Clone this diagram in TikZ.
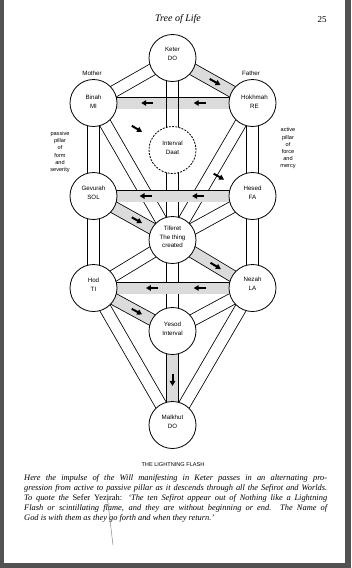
\documentclass[tikz,border=0pt]{standalone}
\usepackage{fontspec}
\setmainfont{Liberation Serif}
\setsansfont{Liberation Sans}
\usetikzlibrary{calc,arrows.meta}
\pgfdeclarelayer{paper}
\pgfdeclarelayer{bg}
\pgfsetlayers{paper,bg,main}
\newcommand\flasharr[4]{\draw[farrow] ($(#1.center)!#3!(#2.center)$) -- ($(#1.center)!#4!(#2.center)$);}
\begin{document}
\begin{tikzpicture}[x=1pt,y=-1pt,
  sef/.style={circle,draw,line width=0.8pt,fill=white,minimum size=47pt,inner sep=0pt},
  daatsef/.style={sef,dash pattern=on 2pt off 1.2pt},
  lbl/.style={font=\sffamily\fontsize{6.2}{9}\selectfont,align=center,inner sep=0pt},
  sidelbl/.style={font=\sffamily\fontsize{5.6}{7.2}\selectfont,align=center,inner sep=0pt},
  chan/.style={double=white,double distance=11pt,line width=0.8pt},
  flashchan/.style={double=black!14,double distance=11pt,line width=0.8pt},
  farrow/.style={line width=2pt,-{Triangle[length=5pt,width=5.5pt]}},
  capl/.style={font=\fontsize{8.4}{10}\selectfont\itshape,inner sep=0pt,anchor=base west},
]
\useasboundingbox (0,0) rectangle (351,568);
\begin{pgfonlayer}{paper}
\fill[white] (0,0) rectangle (351,568);
\fill[black!68] (0,0) rectangle (4,568);
\fill[black!68] (345,0) rectangle (351,568);
\fill[black!68] (0,563) rectangle (351,568);
\end{pgfonlayer}

% header
\node[font=\fontsize{10}{12}\selectfont\itshape,inner sep=0pt] (title) at (178,19) {Tree of Life};
\node[font=\fontsize{9}{11}\selectfont,inner sep=0pt] (pagenum) at (322,20) {25};

% sefirot
\node[sef] (ket) at (172.5,58) {};
\node[sef] (bin) at (93.5,103) {};
\node[sef] (hok) at (252.5,103) {};
\node[daatsef] (daat) at (172.5,150) {};
\node[sef] (geb) at (93.5,196) {};
\node[sef] (hes) at (252.5,196) {};
\node[sef] (tif) at (172.5,240) {};
\node[sef] (hod) at (93.5,288) {};
\node[sef] (net) at (252.5,288) {};
\node[sef] (yes) at (172.5,331) {};
\node[sef] (mal) at (172.5,425) {};

\node[lbl] (ketT) at ([yshift=4pt]ket.center) {Keter\\DO};
\node[lbl] (binT) at ([yshift=1pt]bin.center) {Binah\\MI};
\node[lbl] (hokT) at ([xshift=2pt,yshift=1pt]hok.center) {Hokhmah\\RE};
\node[lbl] (daatT) at ([yshift=2pt]daat.center) {Interval\\Daat};
\node[lbl] (gebT) at ([yshift=3pt]geb.center) {Gevurah\\SOL};
\node[lbl] (hesT) at ([yshift=3pt]hes.center) {Hesed\\FA};
\node[lbl,font=\sffamily\fontsize{6.2}{8.5}\selectfont] (tifT) at ([yshift=3pt]tif.center) {Tiferet\\The thing\\created};
\node[lbl] (hodT) at ([yshift=3pt]hod.center) {Hod\\TI};
\node[lbl] (netT) at ([yshift=4pt]net.center) {Nezah\\LA};
\node[lbl] (yesT) at ([yshift=2pt]yes.center) {Yesod\\Interval};
\node[lbl] (malT) at ([yshift=3pt]mal.center) {Malkhut\\DO};

\node[lbl] (mother) at (92,73) {Mother};
\node[lbl] (father) at (251,73) {Father};
\node[sidelbl] (passive) at (60,152) {passive\\pillar\\of\\form\\and\\severity};
\node[sidelbl] (active) at (288,148.5) {active\\pillar\\of\\force\\and\\mercy};

\begin{pgfonlayer}{bg}
  \draw[chan] (ket.center) -- (bin.center);
  \draw[chan] (ket.center) -- (tif.center);
  \draw[chan] (bin.center) -- (geb.center);
  \draw[chan] (hok.center) -- (hes.center);
  \draw[chan] (bin.center) -- (tif.center);
  \draw[chan] (hok.center) -- (tif.center);
  \draw[chan] (hes.center) -- (tif.center);
  \draw[chan] (geb.center) -- (hod.center);
  \draw[chan] (hes.center) -- (net.center);
  \draw[chan] (tif.center) -- (hod.center);
  \draw[chan] (tif.center) -- (yes.center);
  \draw[chan] (net.center) -- (yes.center);
  \draw[chan] (hod.center) -- (mal.center);
  \draw[chan] (net.center) -- (mal.center);
  \draw[flashchan] (ket.center) -- (hok.center);
  \draw[flashchan] (hok.center) -- (bin.center);
  \draw[flashchan] (hes.center) -- (geb.center);
  \draw[flashchan] (geb.center) -- (tif.center);
  \draw[flashchan] (tif.center) -- (net.center);
  \draw[flashchan] (net.center) -- (hod.center);
  \draw[flashchan] (hod.center) -- (yes.center);
  \draw[flashchan] (yes.center) -- (mal.center);
  \draw[line width=0.8pt] ([xshift=-5.9pt]ket.center) -- ([xshift=-5.9pt]daat.center);
  \draw[line width=0.8pt] ([xshift=5.9pt]ket.center) -- ([xshift=5.9pt]daat.center);
\end{pgfonlayer}

% lightning flash arrows
\flasharr{ket}{hok}{0.465}{0.6}
\flasharr{hok}{bin}{0.295}{0.37}
\flasharr{hok}{bin}{0.625}{0.70}
\flasharr{bin}{daat}{0.485}{0.615}
\flasharr{daat}{hes}{0.515}{0.645}
\flasharr{hes}{geb}{0.305}{0.38}
\flasharr{hes}{geb}{0.635}{0.71}
\flasharr{geb}{tif}{0.485}{0.615}
\flasharr{tif}{net}{0.475}{0.605}
\flasharr{net}{hod}{0.295}{0.37}
\flasharr{net}{hod}{0.595}{0.67}
\flasharr{hod}{yes}{0.485}{0.615}
\flasharr{yes}{mal}{0.455}{0.585}

% caption
\node[font=\sffamily\fontsize{5.6}{7}\selectfont,inner sep=0pt] (flashtitle) at (173,465) {THE LIGHTNING FLASH};
\node[capl] (c1) at (24,480) {\makebox[303pt][s]{Here the impulse of the Will manifesting in Keter passes in an alternating pro-}};
\node[capl] (c2) at (24,490) {\makebox[303pt][s]{gression from active to passive pillar as it descends through all the Sefirot and Worlds.}};
\node[capl] (c3) at (24,500) {\makebox[303pt][s]{To quote the {\upshape Sefer Yezirah:} `The ten Sefirot appear out of Nothing like a Lightning}};
\node[capl] (c4) at (24,510) {\makebox[303pt][s]{Flash or scintillating flame, and they are without beginning or end. The Name of}};
\node[capl] (c5) at (24,520) {God is with them as they go forth and when they return.'};
\draw[black!55,line width=0.4pt] (107,495) -- (113,545);
\end{tikzpicture}
\end{document}
